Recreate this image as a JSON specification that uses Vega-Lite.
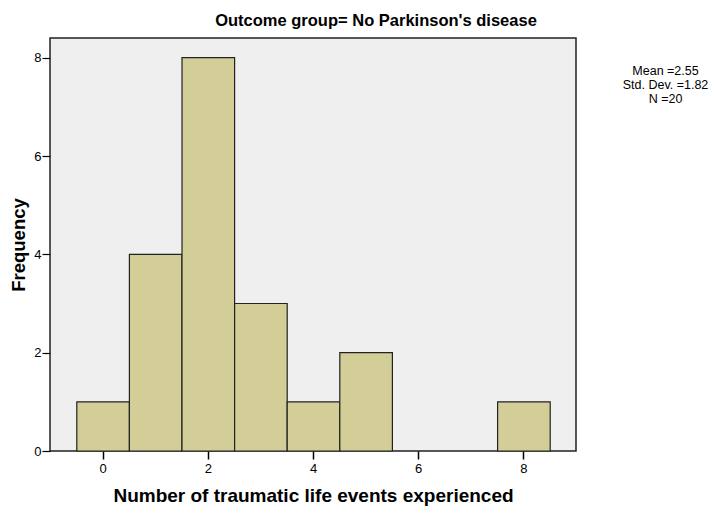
{
  "$schema": "https://vega.github.io/schema/vega-lite/v6.json",
  "width": 526,
  "height": 413,
  "autosize": {"type": "none"},
  "padding": {"left": 50, "top": 38, "right": 139, "bottom": 58},
  "background": "white",
  "config": {
    "font": "Liberation Sans",
    "view": {"fill": "#efefef", "stroke": "#222222", "strokeWidth": 1.5}
  },
  "title": {
    "text": "Outcome group= No Parkinson's disease",
    "anchor": "middle",
    "dx": 63,
    "offset": 9,
    "fontSize": 16.5,
    "fontWeight": "bold",
    "color": "#000000",
    "font": "Liberation Sans"
  },
  "data": {
    "values": [
      {"events": 0},
      {"events": 1}, {"events": 1}, {"events": 1}, {"events": 1},
      {"events": 2}, {"events": 2}, {"events": 2}, {"events": 2},
      {"events": 2}, {"events": 2}, {"events": 2}, {"events": 2},
      {"events": 3}, {"events": 3}, {"events": 3},
      {"events": 4},
      {"events": 5}, {"events": 5},
      {"events": 8}
    ]
  },
  "transform": [
    {"bin": {"step": 1, "anchor": -0.5, "extent": [-0.5, 8.5], "nice": false}, "field": "events", "as": ["bin_start", "bin_end"]},
    {"aggregate": [{"op": "count", "as": "Frequency"}], "groupby": ["bin_start", "bin_end"]}
  ],
  "layer": [
    {
      "mark": {"type": "bar", "fill": "#d3ce98", "stroke": "#222222", "strokeWidth": 1.2, "binSpacing": 0},
      "encoding": {
        "x": {
          "field": "bin_start",
          "type": "quantitative",
          "bin": "binned",
          "scale": {"domain": [-1, 9], "nice": false, "zero": false},
          "axis": {
            "title": "Number of traumatic life events experienced",
            "values": [0, 2, 4, 6, 8],
            "grid": false,
            "domain": false,
            "tickSize": 8,
            "tickColor": "#000000",
            "tickWidth": 1.5,
            "labelFontSize": 13,
            "labelColor": "#000000",
            "labelPadding": 3,
            "titleFontSize": 19,
            "titleFontWeight": "bold",
            "titleColor": "#000000",
            "titlePadding": 11
          }
        },
        "x2": {"field": "bin_end"},
        "y": {
          "field": "Frequency",
          "type": "quantitative",
          "scale": {"domain": [0, 8.4], "nice": false},
          "axis": {
            "title": "Frequency",
            "values": [0, 2, 4, 6, 8],
            "grid": false,
            "domain": false,
            "tickSize": 8,
            "tickColor": "#000000",
            "tickWidth": 1.2,
            "labelFontSize": 13,
            "labelColor": "#000000",
            "labelPadding": 1,
            "titleFontSize": 18.5,
            "titleFontWeight": "bold",
            "titleColor": "#000000",
            "titlePadding": 5
          }
        }
      }
    },
    {
      "mark": {"type": "bar", "opacity": 0},
      "encoding": {
        "x": {"field": "bin_start", "type": "quantitative", "bin": "binned"},
        "x2": {"field": "bin_end"},
        "y": {
          "field": "Frequency",
          "type": "quantitative",
          "scale": {"domain": [0, 8.4], "nice": false},
          "axis": {
            "orient": "right",
            "title": ["Mean =2.55", "Std. Dev. =1.82", "N =20"],
            "domain": false,
            "ticks": false,
            "labels": false,
            "grid": false,
            "titleAngle": 0,
            "titleAlign": "center",
            "titleBaseline": "top",
            "titleX": 89,
            "titleY": 26,
            "titleFontSize": 12.5,
            "titleFontWeight": "normal",
            "titleColor": "#000000",
            "titleLineHeight": 14
          }
        }
      }
    }
  ],
  "resolve": {"scale": {"y": "independent"}}
}
